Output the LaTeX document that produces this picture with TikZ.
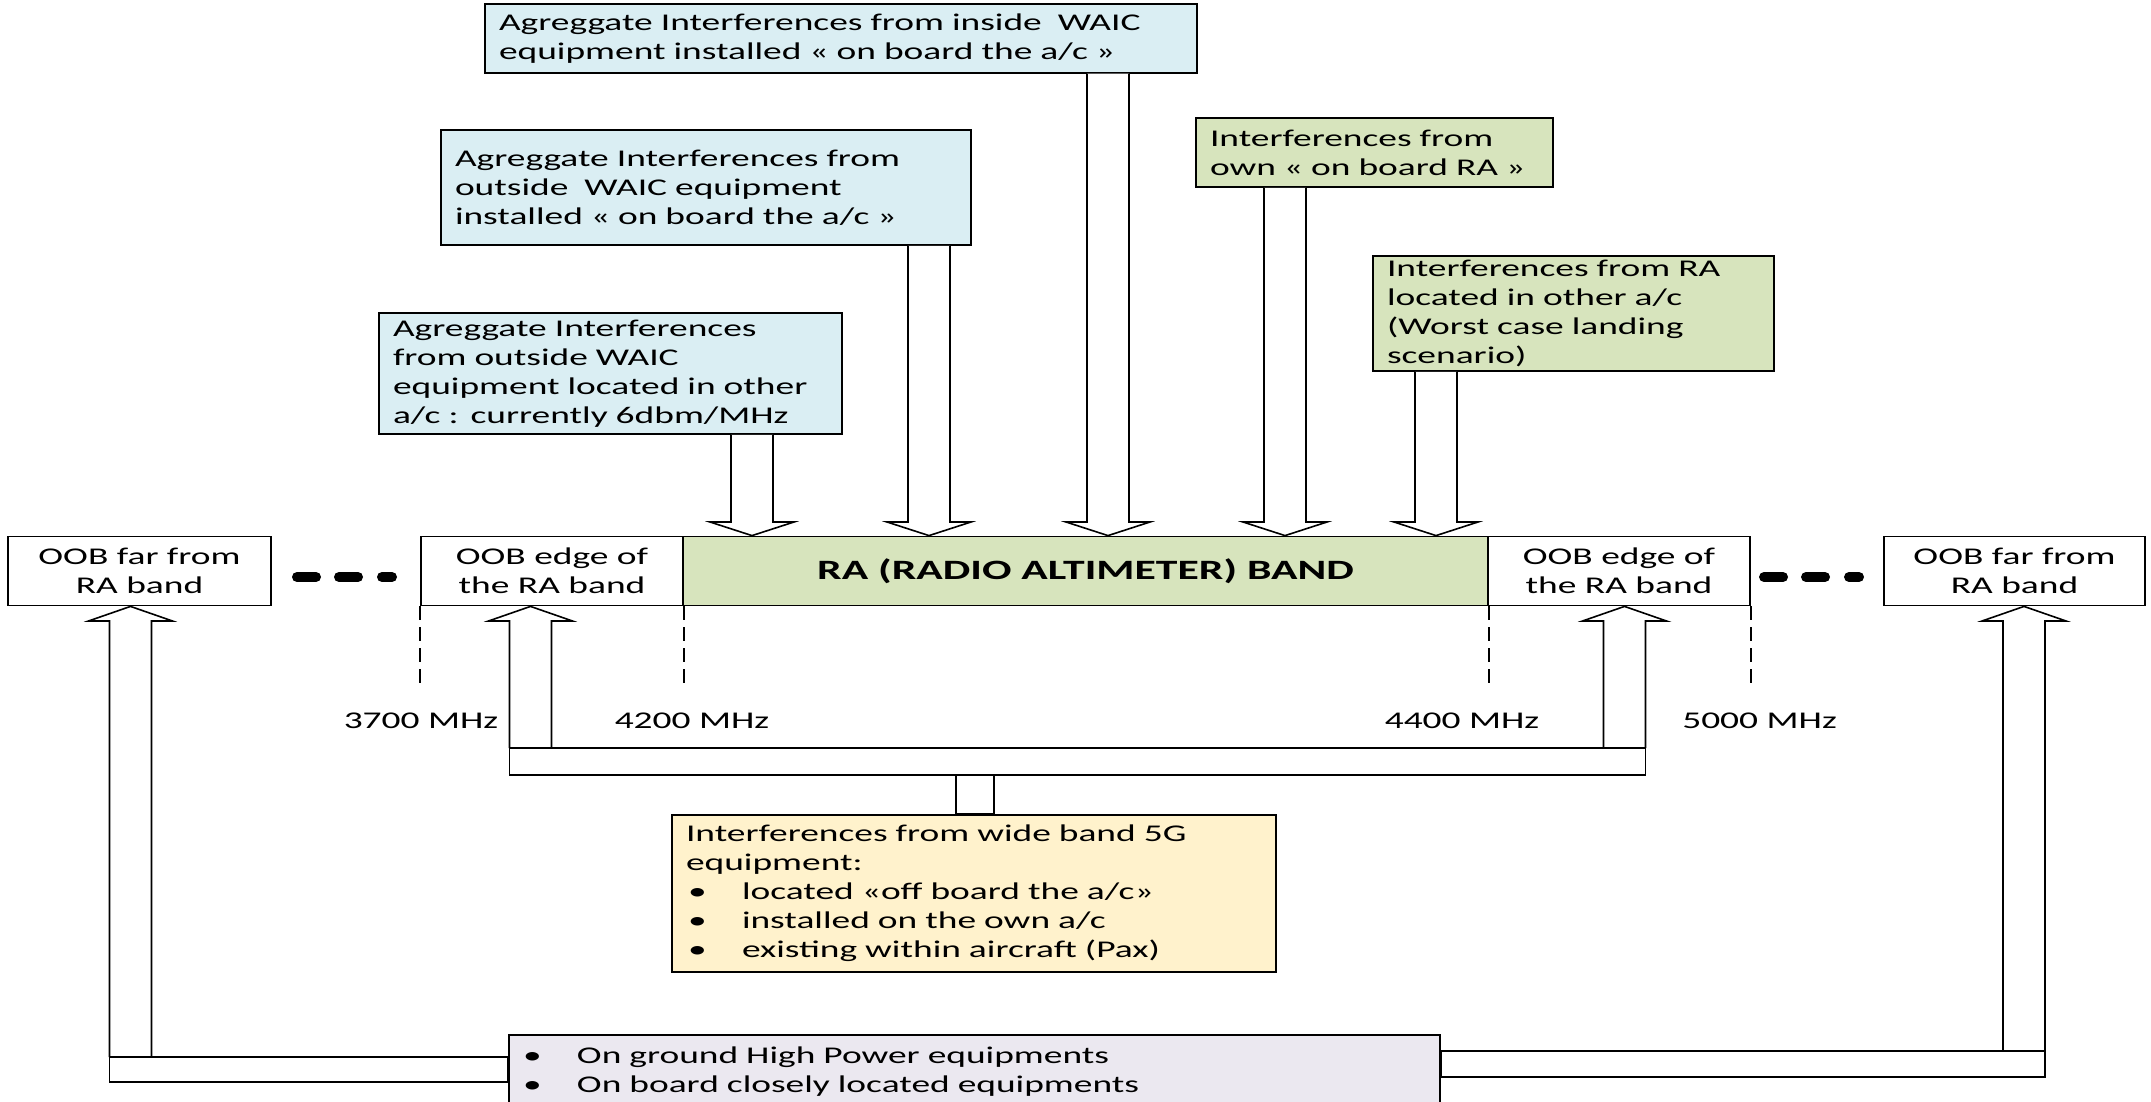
\documentclass[tikz,border=0pt]{standalone}
\usepackage{fontspec}
\setmainfont[FakeStretch=1.56]{Carlito}
\usetikzlibrary{calc}

\definecolor{waicblue}{HTML}{DAEEF3}
\definecolor{ragreen}{HTML}{D7E4BD}
\definecolor{fivegyellow}{HTML}{FFF2CC}
\definecolor{groundgrey}{HTML}{EBE8F0}

\tikzset{
  infobox/.style={draw, line width=0.9pt, inner xsep=7pt, inner ysep=0pt, align=left,
    font=\fontsize{12}{14.5}\selectfont},
  bandbox/.style={draw, line width=0.9pt, minimum height=34.5pt, inner sep=0pt, align=center,
    font=\fontsize{12}{14.5}\selectfont},
  freqlabel/.style={inner sep=0pt, font=\fontsize{12}{14.5}\selectfont},
  hollow/.style={draw, fill=white, line width=0.8pt, line join=miter},
  freqline/.style={line width=0.8pt, dash pattern=on 7pt off 3.5pt},
  dotsline/.style={line width=5pt, line cap=round},
}

\begin{document}
\begin{tikzpicture}[x=0.5pt, y=-0.5pt]
    \useasboundingbox (0,0) rectangle (2151,1102);
    \clip (0,0) rectangle (2151,1102);

    % sources above the band
    \node[infobox, fill=waicblue, text width=342pt, minimum height=34.3pt] (a1) at (841,38.4)
        {Agreggate Interferences from inside~ WAIC\\equipment installed « on board the a/c »};
    \node[infobox, fill=waicblue, text width=251pt, minimum height=57.5pt] (a2) at (706,187.5)
        {Agreggate Interferences from\\outside~ WAIC equipment\\installed « on board the a/c »};
    \node[infobox, fill=waicblue, text width=217.5pt, minimum height=60.5pt] (a3) at (610.5,373.5)
        {Agreggate Interferences\\from outside WAIC\\equipment located in other\\a/c : currently 6dbm/MHz};
    \node[infobox, fill=ragreen, text width=164.5pt, minimum height=34.5pt] (g1) at (1374.5,152.5)
        {Interferences from\\own « on board RA »};
    \node[infobox, fill=ragreen, text width=186.5pt, minimum height=57.5pt] (g2) at (1573.5,313.5)
        {Interferences from RA\\located in other a/c\\(Worst case landing\\scenario)};

    % the frequency row
    \node[bandbox, minimum width=131.5pt] (oobfl) at (139.5,571) {OOB far from\\RA band};
    \node[bandbox, minimum width=131pt] (oobel) at (552,571) {OOB edge of\\the RA band};
    \node[bandbox, minimum width=402.5pt, fill=ragreen,
          font=\fontsize{14}{17}\selectfont\bfseries] (band) at (1085.5,571) {RA (RADIO ALTIMETER) BAND};
    \node[bandbox, minimum width=131pt] (oober) at (1619,571) {OOB edge of\\the RA band};
    \node[bandbox, minimum width=130.5pt] (oobfr) at (2014.5,571) {OOB far from\\RA band};

    \foreach \o in {0,1467} {
        \draw[dotsline] (297+\o,577) -- (316+\o,577);
        \draw[dotsline] (339+\o,577) -- (358+\o,577);
        \draw[dotsline] (382+\o,577) -- (392+\o,577);
    }

    \draw[freqline] (oobel.south west) -- ++(0,83);
    \draw[freqline] (oobel.south east) -- ++(0,83);
    \draw[freqline] (band.south east) -- ++(0,83);
    \draw[freqline] (oober.south east) -- ++(0,83);

    \node[freqlabel] (f3700) at (421,721) {3700 MHz};
    \node[freqlabel] (f4200) at (692,721) {4200 MHz};
    \node[freqlabel] (f4400) at (1462,721) {4400 MHz};
    \node[freqlabel] (f5000) at (1759.5,721) {5000 MHz};

    % sources below the band
    \node[infobox, fill=fivegyellow, text width=288pt, minimum height=78.5pt] (fiveg) at (974,893.5)
        {Interferences from wide band 5G\\equipment:\\
         \hspace*{1pt}\makebox[27pt][l]{•}located «off board the a/c»\\
         \hspace*{1pt}\makebox[27pt][l]{•}installed on the own a/c\\
         \hspace*{1pt}\makebox[27pt][l]{•}existing within aircraft (Pax)};
    \node[infobox, fill=groundgrey, text width=451.5pt, minimum height=36.5pt] (ground) at (974.5,1071.5)
        {\makebox[27pt][l]{•}On ground High Power equipments\\
         \makebox[27pt][l]{•}On board closely located equipments};

    % hollow arrows down into the band
    \foreach \src/\x in {a3/752, a2/929, a1/1108, g1/1285, g2/1436} {
        \draw[hollow] (\x-21,0 |- \src.south) -- (\x-21,522) -- (\x-42,522) -- (\x,0 |- band.north)
            -- (\x+42,522) -- (\x+21,522) -- (\x+21,0 |- \src.south);
    }

    % hollow arrows up into the out of band boxes
    \foreach \dst/\x/\yb in {oobfl/130.5/1057, oobel/530.5/748, oober/1624.5/748, oobfr/2024/1051} {
        \draw[hollow] (\x-21,\yb) -- (\x-21,621) -- (\x-42,621) -- (\x,0 |- \dst.south)
            -- (\x+42,621) -- (\x+21,621) -- (\x+21,\yb);
    }

    % bars joining the arrows to their sources
    \draw[hollow] (509.5,748) rectangle (1645.5,775);
    \draw[hollow] (956,775) rectangle (994,0 |- fiveg.north);
    \draw[hollow] (109.5,1057) rectangle (ground.west |- 0,1082);
    \draw[hollow] (ground.east |- 0,1051) rectangle (2045,1077);
\end{tikzpicture}
\end{document}
